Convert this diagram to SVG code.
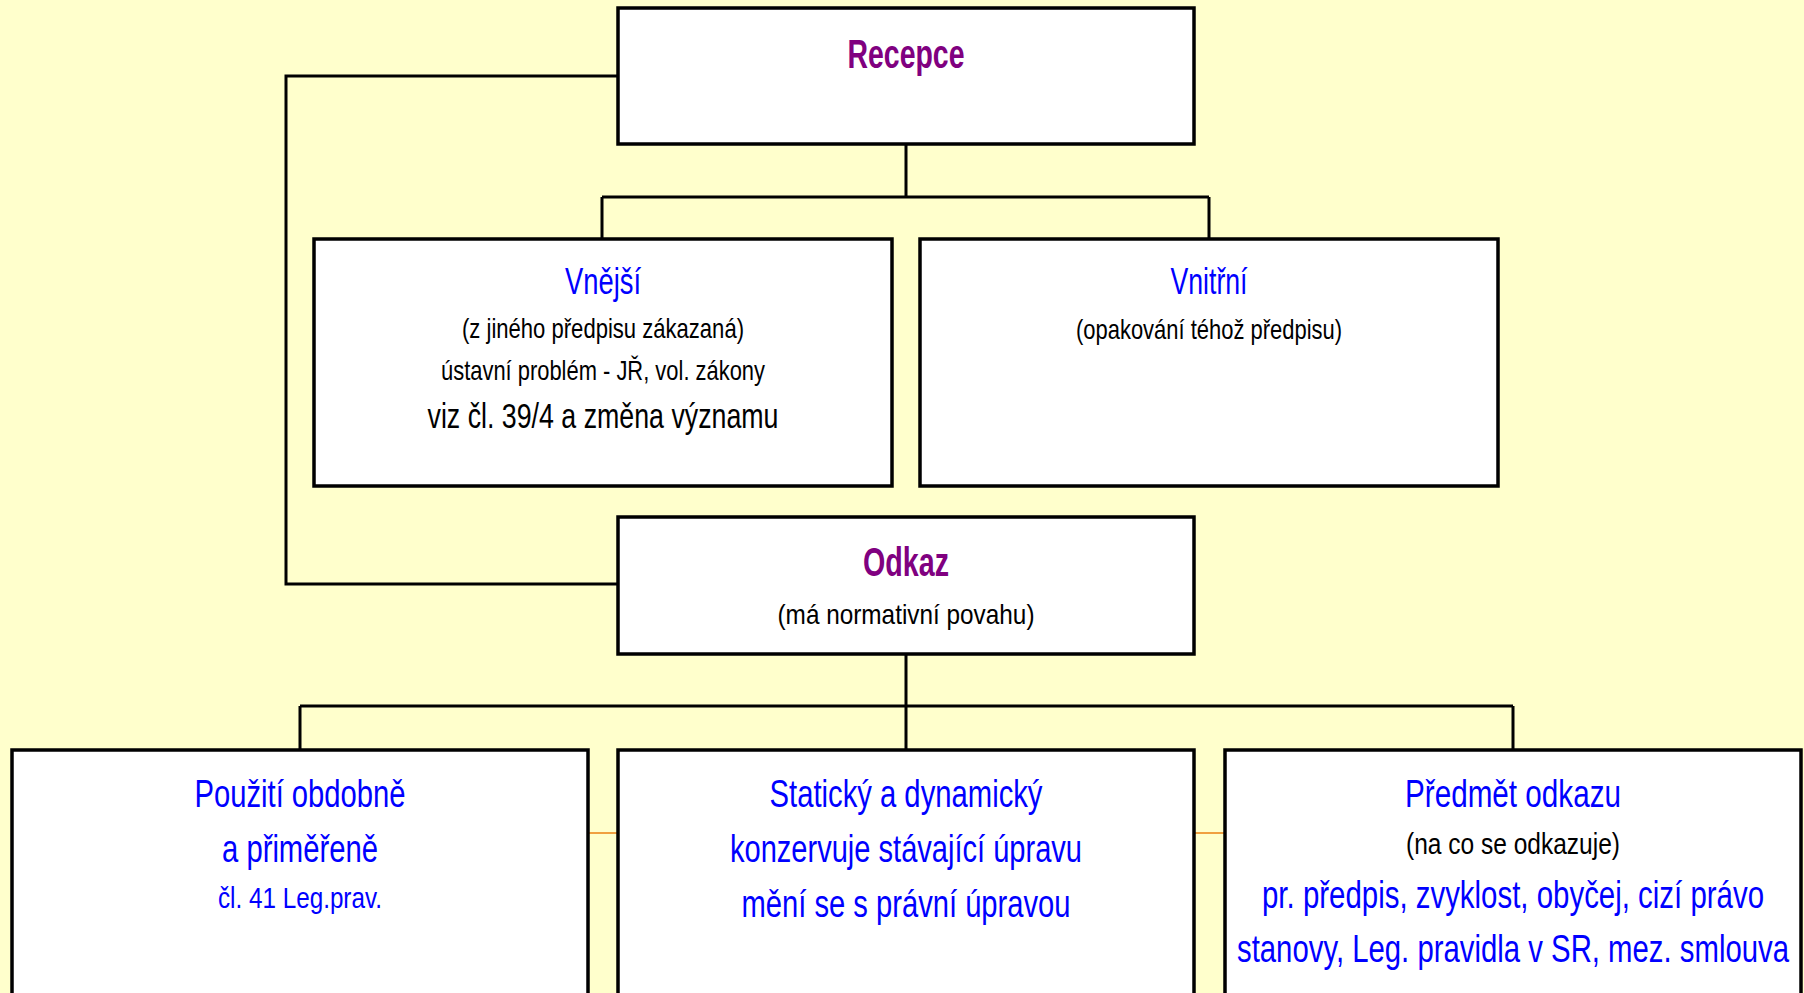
<svg xmlns="http://www.w3.org/2000/svg" width="1804" height="993" viewBox="0 0 1804 993">
<style>
.box{fill:#FFFFFF;stroke:#000000;stroke-width:3.5}
.con{fill:none;stroke:#000000;stroke-width:3}
.org{fill:none;stroke:#F0A040;stroke-width:2}
text{font-family:"Liberation Sans Narrow","Liberation Sans","Arial Narrow",Arial,sans-serif;text-anchor:middle}
.ttl{font-weight:bold;fill:#800080;font-size:41px}
.hd{fill:#0000FF;font-size:36px}
.bl{fill:#0000FF}
.bk{fill:#000000}
</style>
<rect x="0" y="0" width="1804" height="993" fill="#FFFFCC"/>
<g id="connectors">
<path class="con" d="M906 144 V197 M602 197 H1209 M602 197 V239 M1209 197 V239"/>
<path class="con" d="M618 76 H286 V584 H618"/>
<path class="con" d="M906 654 V706 M300 706 H1513 M300 706 V750 M906 706 V750 M1513 706 V750"/>
<path class="org" d="M588 833 H618 M1194 833 H1225"/>
</g>
<g id="recepce">
<rect class="box" x="618" y="8" width="576" height="136"/>
<text class="ttl" x="906" y="68" textLength="117" lengthAdjust="spacingAndGlyphs">Recepce</text>
</g>
<g id="vnejsi">
<rect class="box" x="314" y="239" width="578" height="247"/>
<text class="hd" x="603" y="294" textLength="76" lengthAdjust="spacingAndGlyphs">Vnější</text>
<text class="bk" x="603" y="338" font-size="28" textLength="282" lengthAdjust="spacingAndGlyphs">(z jiného předpisu zákazaná)</text>
<text class="bk" x="603" y="380" font-size="28" textLength="324" lengthAdjust="spacingAndGlyphs">ústavní problém - JŘ, vol. zákony</text>
<text class="bk" x="603" y="428" font-size="35" textLength="351" lengthAdjust="spacingAndGlyphs">viz čl. 39/4 a změna významu</text>
</g>
<g id="vnitrni">
<rect class="box" x="920" y="239" width="578" height="247"/>
<text class="hd" x="1209" y="294" textLength="77" lengthAdjust="spacingAndGlyphs">Vnitřní</text>
<text class="bk" x="1209" y="339" font-size="28" textLength="266" lengthAdjust="spacingAndGlyphs">(opakování téhož předpisu)</text>
</g>
<g id="odkaz">
<rect class="box" x="618" y="517" width="576" height="137"/>
<text class="ttl" x="906" y="576" textLength="86" lengthAdjust="spacingAndGlyphs">Odkaz</text>
<text class="bk" x="906" y="624" font-size="28" textLength="257" lengthAdjust="spacingAndGlyphs">(má normativní povahu)</text>
</g>
<g id="pouziti">
<rect class="box" x="12" y="750" width="576" height="260"/>
<text class="bl" x="300" y="807" font-size="38" textLength="211" lengthAdjust="spacingAndGlyphs">Použití obdobně</text>
<text class="bl" x="300" y="862" font-size="38" textLength="156" lengthAdjust="spacingAndGlyphs">a přiměřeně</text>
<text class="bl" x="300" y="908" font-size="29" textLength="164" lengthAdjust="spacingAndGlyphs">čl. 41 Leg.prav.</text>
</g>
<g id="staticky">
<rect class="box" x="618" y="750" width="576" height="260"/>
<text class="bl" x="906" y="807" font-size="38" textLength="273" lengthAdjust="spacingAndGlyphs">Statický a dynamický</text>
<text class="bl" x="906" y="862" font-size="38" textLength="352" lengthAdjust="spacingAndGlyphs">konzervuje stávající úpravu</text>
<text class="bl" x="906" y="917" font-size="38" textLength="329" lengthAdjust="spacingAndGlyphs">mění se s právní úpravou</text>
</g>
<g id="predmet">
<rect class="box" x="1225" y="750" width="576" height="260"/>
<text class="bl" x="1513" y="807" font-size="38" textLength="216" lengthAdjust="spacingAndGlyphs">Předmět odkazu</text>
<text class="bk" x="1513" y="854" font-size="29" textLength="214" lengthAdjust="spacingAndGlyphs">(na co se odkazuje)</text>
<text class="bl" x="1513" y="908" font-size="38" textLength="502" lengthAdjust="spacingAndGlyphs">pr. předpis, zvyklost, obyčej, cizí právo</text>
<text class="bl" x="1513" y="962" font-size="38" textLength="552" lengthAdjust="spacingAndGlyphs">stanovy, Leg. pravidla v SR, mez. smlouva</text>
</g>
</svg>
